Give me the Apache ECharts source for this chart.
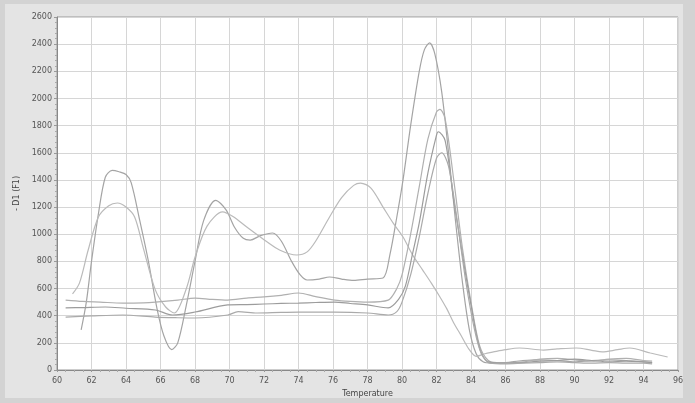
<!DOCTYPE html>
<html>
<head>
<meta charset="utf-8">
<script src="https://cdn.jsdelivr.net/npm/echarts@6/dist/echarts.min.js"></script>
<style>
html,body{margin:0;padding:0;background:#d3d3d3;width:695px;height:403px;overflow:hidden;}
#panel{position:absolute;left:5px;top:4px;width:678px;height:394px;background:#e4e4e4;}
#chart{position:absolute;left:0;top:0;width:695px;height:403px;}
</style>
</head>
<body>
<div id="panel"></div>
<div id="chart"></div>
<script>
var xTicks = [60,62,64,66,68,70,72,74,76,78,80,82,84,86,88,90,92,94,96];
var yTicks = [0,200,400,600,800,1000,1200,1400,1600,1800,2000,2200,2400,2600];

var tempA = [61.4,61.7,62,62.4,62.8,63.2,63.6,64,64.3,64.8,65.3,65.8,66.2,66.65,67,67.5,68,68.5,69.2,69.8,70.3,70.8,71.2,71.8,72.5,73,73.6,74.1,74.5,75.2,75.8,76.5,77.2,78,78.9,79.3,79.7,80.06,80.5,81,81.3,81.6,81.9,82.3,82.7,83.1,83.5,83.9,84.3,84.7,85.2,86,87,88,89,90,91,92,93,94,94.5];
var valA  = [295,500,800,1150,1420,1470,1460,1440,1380,1100,800,450,250,150,200,480,800,1100,1250,1180,1050,970,957,990,1009,950,800,700,663,670,685,670,660,670,678,850,1127,1400,1800,2200,2360,2410,2330,2050,1600,1100,650,300,120,60,50,55,70,75,70,60,70,75,70,60,55];

var tempB = [60.9,61.3,61.8,62.4,63,63.5,64,64.5,65,65.7,66.3,66.8,67.5,68,68.7,69.6,70.2,71,72,72.9,73.9,74.5,75,75.8,76.5,77.2,77.6,78.2,78.9,79.5,80.06,80.6,81.2,81.7,82.2,82.6,83,83.4,83.9,84.3,84.8,85.3,86,86.8,88.2,89,90.1,91,91.6,92.5,93.2,94.4,95.4];
var valB  = [560,640,880,1127,1210,1230,1200,1127,900,590,464,420,600,830,1060,1164,1130,1053,960,884,847,870,950,1127,1270,1360,1377,1340,1200,1080,980,850,736,640,538,450,346,260,150,100,120,133,150,162,147,155,162,145,133,150,162,125,96];

var tempC = [60.5,61.5,62.5,63.8,65,65.7,67,68,69,69.9,71,72,73,74,75,76.1,77,78,79.2,79.7,80,80.5,81,81.5,82,82.2,82.5,83,83.5,84,84.5,85,85.5,86,87,88,89,90,91,92,93,94,94.5];
var valC  = [515,505,500,493,495,500,515,530,520,515,530,538,550,567,540,515,505,500,515,600,700,1000,1350,1700,1900,1920,1850,1400,900,500,180,70,55,55,60,80,85,75,65,80,85,70,65];

var tempD = [60.5,61.5,62.8,64,65.7,66.7,68,69.9,71,72,73,74,75,76.1,77,78,79.2,79.8,80.2,80.6,81,81.5,82,82.1,82.5,83,83.5,84,84.5,85,86,87,88,89,90,91,92,93,94,94.5];
var valD  = [457,460,464,455,442,405,427,479,482,486,490,493,497,500,490,479,457,520,620,850,1083,1450,1730,1755,1690,1250,850,480,160,60,50,55,65,70,80,70,60,65,60,55];

var tempE = [60.5,62,63.8,65.7,67,68,69.9,70.5,71.6,73,74,76.1,78,79.2,79.7,80,80.5,81,81.5,82,82.3,82.7,83.2,83.7,84.2,84.6,85.1,86,87,88,89,90,91,92,93,94,94.5];
var valE  = [390,398,405,390,385,383,405,430,420,425,427,427,420,405,430,500,700,980,1300,1560,1600,1500,1100,650,300,120,50,45,50,55,60,55,50,55,50,50,45];

function zip(t, v){ return t.map(function(x,i){ return [x, v[i]]; }); }

var curves = [
  {name:'A', t:tempA, v:valA, color:'#a4a4a4'},
  {name:'B', t:tempB, v:valB, color:'#bababa'},
  {name:'C', t:tempC, v:valC, color:'#b0b0b0'},
  {name:'D', t:tempD, v:valD, color:'#9c9c9c'},
  {name:'E', t:tempE, v:valE, color:'#aaaaaa'}
];

var chart = echarts.init(document.getElementById('chart'));
var labelStyle = {color:'#555', fontSize:8, fontFamily:'DejaVu Sans'};
chart.setOption({
  backgroundColor:'transparent',
  animation:false,
  grid:{left:57, top:17, right:17, bottom:33, show:true, backgroundColor:'#ffffff', borderColor:'#9a9a9a', borderWidth:1},
  xAxis:{
    type:'value', min:xTicks[0], max:xTicks[xTicks.length-1], interval:2,
    name:'Temperature', nameLocation:'middle', nameGap:20,
    nameTextStyle:{color:'#444', fontSize:8, fontFamily:'DejaVu Sans'},
    axisLine:{show:true, lineStyle:{color:'#888'}},
    axisTick:{show:true, length:2, lineStyle:{color:'#999'}},
    minorTick:{show:true, splitNumber:4, length:2, lineStyle:{color:'#aaa'}},
    axisLabel:Object.assign({margin:7, formatter:function(v){return String(v);}}, labelStyle),
    splitLine:{show:true, lineStyle:{color:'#d6d6d6', width:1}}
  },
  yAxis:{
    type:'value', min:yTicks[0], max:yTicks[yTicks.length-1], interval:200,
    name:'- D1 (F1)', nameLocation:'middle', nameGap:36, nameRotate:90,
    nameTextStyle:{color:'#444', fontSize:8, fontFamily:'DejaVu Sans'},
    axisLine:{show:true, lineStyle:{color:'#888'}},
    axisTick:{show:true, length:3, lineStyle:{color:'#999'}},
    minorTick:{show:true, splitNumber:5, length:2, lineStyle:{color:'#aaa'}},
    axisLabel:Object.assign({margin:5, formatter:function(v){return String(v);}}, labelStyle),
    splitLine:{show:true, lineStyle:{color:'#d6d6d6', width:1}}
  },
  series: curves.map(function(c){
    return {
      name:c.name, type:'line', data:zip(c.t, c.v), showSymbol:false, smooth:0.3,
      lineStyle:{color:c.color, width:1.2}
    };
  })
});
</script>
</body>
</html>
